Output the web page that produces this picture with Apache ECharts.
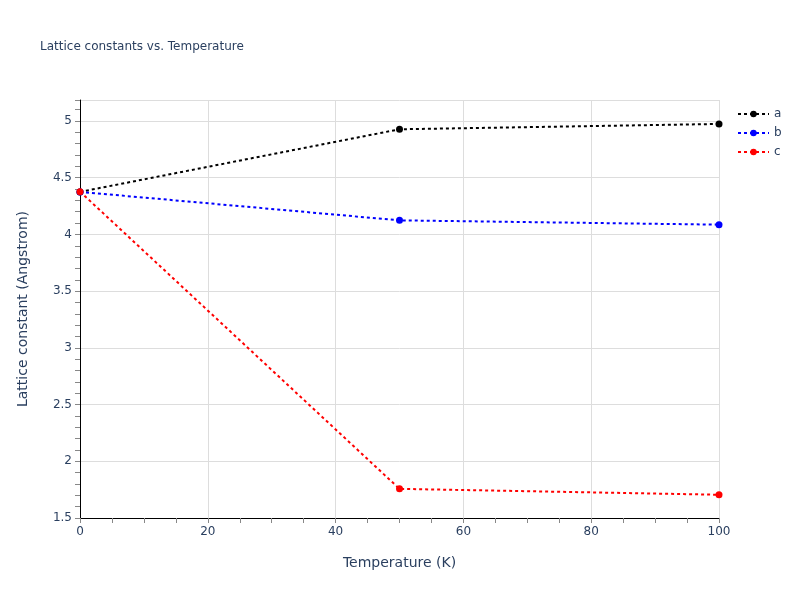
<!DOCTYPE html>
<html>
<head>
<meta charset="utf-8">
<script src="https://cdn.jsdelivr.net/npm/echarts@6/dist/echarts.min.js"></script>
<style>
  html, body { margin: 0; padding: 0; background: #fff; }
  #main { width: 800px; height: 600px; }
</style>
</head>
<body>
<div id="main"></div>
<script>
// data
var temps = [0, 50, 100];
var latA = [4.375, 4.927, 4.974];
var latB = [4.375, 4.124, 4.086];
var latC = [4.377, 1.757, 1.705];
var seriesNames = ['a', 'b', 'c'];
var seriesColors = ['#000000', '#0000ff', '#ff0000'];

var textColor = '#2a3f5f';
var chart = echarts.init(document.getElementById('main'));

function pairs(ys) {
    return temps.map(function (t, i) { return [t, ys[i]]; });
}

function lineSeries(name, ys, color) {
    return {
        name: name,
        type: 'line',
        data: pairs(ys),
        symbol: 'circle',
        symbolSize: 7,
        clip: false,
        itemStyle: { color: color },
        lineStyle: { color: color, width: 2, type: [3, 3] },
        emphasis: { disabled: true }
    };
}

var option = {
    animation: false,
    textStyle: { fontFamily: '"DejaVu Sans", Verdana, sans-serif' },
    title: {
        text: 'Lattice constants vs. Temperature',
        left: 35,
        top: 36,
        textStyle: { fontSize: 12, fontWeight: 'normal', color: textColor }
    },
    legend: {
        orient: 'vertical',
        left: 732,
        top: 103,
        itemWidth: 31,
        itemHeight: 8,
        itemGap: 7,
        data: seriesNames,
        textStyle: { fontSize: 12, color: textColor }
    },
    grid: { left: 80, right: 81, top: 100, bottom: 82 },
    xAxis: {
        type: 'value',
        min: 0,
        max: 100,
        interval: 20,
        name: 'Temperature (K)',
        nameLocation: 'middle',
        nameGap: 38,
        nameTextStyle: { fontSize: 14, color: textColor },
        axisLine: { show: true, onZero: false, lineStyle: { color: '#000', width: 1 } },
        axisTick: { show: true, inside: false, length: 5, lineStyle: { color: '#888' } },
        minorTick: { show: true, splitNumber: 4, length: 5, lineStyle: { color: '#888' } },
        axisLabel: { fontSize: 12, color: textColor, margin: 8 },
        splitLine: { show: true, lineStyle: { color: '#dddddd', width: 1 } }
    },
    yAxis: {
        type: 'value',
        min: 1.5,
        max: 5.185,
        interval: 0.5,
        name: 'Lattice constant (Angstrom)',
        nameLocation: 'middle',
        nameGap: 50,
        nameTextStyle: { fontSize: 14, color: textColor },
        axisLine: { show: true, onZero: false, lineStyle: { color: '#000', width: 1 } },
        axisTick: { show: true, inside: false, length: 5, lineStyle: { color: '#888' } },
        minorTick: { show: true, splitNumber: 5, length: 5, lineStyle: { color: '#888' } },
        axisLabel: {
            fontSize: 12,
            color: textColor,
            margin: 8,
            showMaxLabel: false,
            formatter: function (v) {
                return Math.abs(v * 2 - Math.round(v * 2)) < 1e-6 ? String(v) : '';
            }
        },
        splitLine: { show: true, lineStyle: { color: '#dddddd', width: 1 } }
    },
    series: [
        lineSeries(seriesNames[0], latA, seriesColors[0]),
        lineSeries(seriesNames[1], latB, seriesColors[1]),
        lineSeries(seriesNames[2], latC, seriesColors[2])
    ]
};

chart.setOption(option);
</script>
</body>
</html>
